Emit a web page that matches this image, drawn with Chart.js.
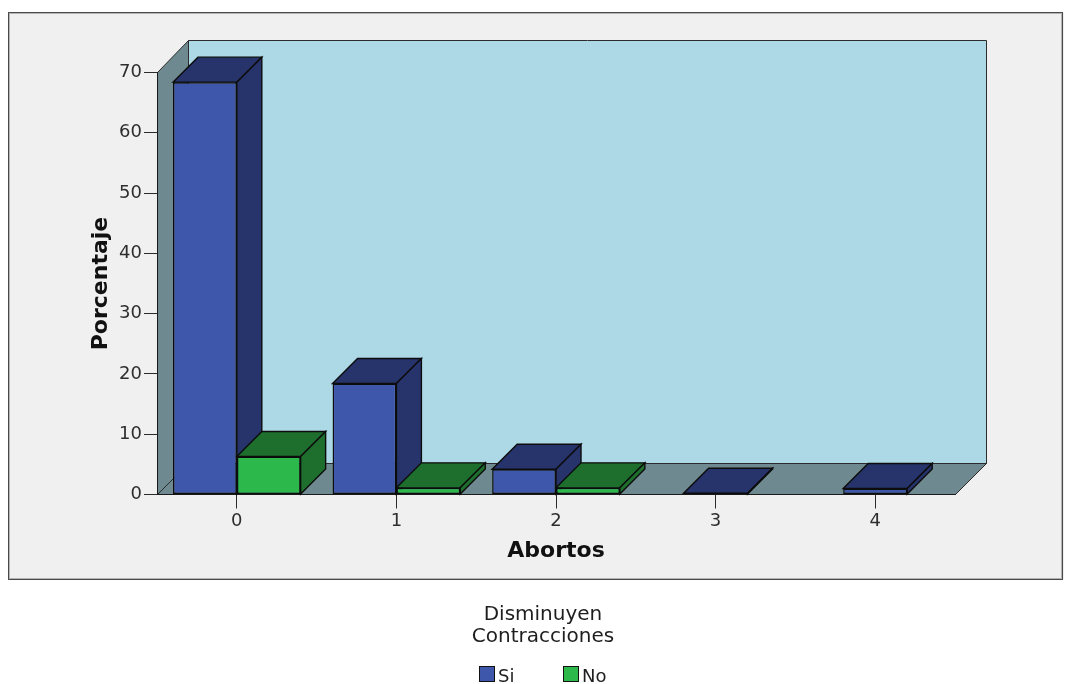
<!DOCTYPE html>
<html>
<head>
<meta charset="utf-8">
<script src="https://cdn.jsdelivr.net/npm/chart.js@4.4.1/dist/chart.umd.min.js"></script>
<style>
  html, body { margin: 0; padding: 0; background: #ffffff; }
  #wrap { width: 1065px; height: 684px; }
</style>
</head>
<body>
<div id="wrap"><canvas id="chart" width="1065" height="684"></canvas></div>
<script>
// Percent of cases by number of abortions, split by "Disminuyen Contracciones"
const categories = ['0', '1', '2', '3', '4'];
const seriesNames = ['Si', 'No'];
const siValues = [68.4, 18.4, 4.2, 0.2, 1.0];
const noValues = [6.3, 1.1, 1.1, null, null];
const yTicks = [0, 10, 20, 30, 40, 50, 60, 70];
const legendTitle = ['Disminuyen', 'Contracciones'];

// Front face colours and the darker colour used for top / side faces
const frontColors = ['#3e57ab', '#2db84b'];
const shadeColors = ['#26346b', '#1e6f2d'];

const FONT = '"DejaVu Sans", "Liberation Sans", sans-serif';
const BAR_DEPTH = 25;
const WALL_DEPTH = 31;

const crisp = v => Math.floor(v) + 0.5;

function poly(ctx, pts, fill, stroke, lw) {
  ctx.beginPath();
  ctx.moveTo(pts[0][0], pts[0][1]);
  for (let k = 1; k < pts.length; k++) ctx.lineTo(pts[k][0], pts[k][1]);
  ctx.closePath();
  ctx.fillStyle = fill;
  ctx.fill();
  if (stroke) {
    ctx.strokeStyle = stroke;
    ctx.lineWidth = lw || 1;
    ctx.stroke();
  }
}

// Frame, box walls, bar depth faces and the legend block
const scenePlugin = {
  id: 'scene3d',
  beforeDraw(chart) {
    const { ctx, chartArea: a } = chart;
    const d = WALL_DEPTH;
    ctx.save();
    ctx.fillStyle = '#ffffff';
    ctx.fillRect(0, 0, chart.width, chart.height);
    // panel
    ctx.fillStyle = '#f0f0f0';
    ctx.fillRect(8, 12, 1056, 568);
    ctx.lineWidth = 1;
    ctx.strokeStyle = '#b4b4b4';
    ctx.strokeRect(9.5, 13.5, 1052, 565);
    ctx.strokeStyle = '#4a4a4a';
    ctx.strokeRect(8.5, 12.5, 1054, 567);

    const L = crisp(a.left), R = crisp(a.right), T = crisp(a.top), B = crisp(a.bottom);
    const edge = '#2b2b2b';
    // back wall
    poly(ctx, [[L + d, T - d - 1], [R + d, T - d - 1], [R + d, B - d], [L + d, B - d]], '#add8e6', edge);
    // side wall
    poly(ctx, [[L, T], [L + d, T - d - 1], [L + d, B - d], [L, B]], '#6e8a90', edge);
    // floor
    poly(ctx, [[L, B], [L + d, B - d], [R + d, B - d], [R, B]], '#6e8a90', edge);
    ctx.restore();
  },
  beforeDatasetsDraw(chart) {
    const { ctx } = chart;
    const d = BAR_DEPTH;
    ctx.save();
    ctx.lineJoin = 'miter';
    const n = chart.data.labels.length;
    for (let i = 0; i < n; i++) {
      chart.data.datasets.forEach((ds, di) => {
        const v = ds.data[i];
        if (v === null || v === undefined) return;
        const el = chart.getDatasetMeta(di).data[i];
        if (!el) return;
        const { x, y, base, width } = el.getProps(['x', 'y', 'base', 'width'], true);
        const l = x - width / 2, r = x + width / 2;
        const shade = shadeColors[di];
        // top face
        poly(ctx, [[l, y], [l + d, y - d], [r + d, y - d], [r, y]], shade, '#0c0c0c', 1.4);
        // right side face
        poly(ctx, [[r, y], [r + d, y - d], [r + d, base - d], [r, base]], shade, '#0c0c0c', 1.4);
      });
    }
    ctx.restore();
  },
  afterDraw(chart) {
    const { ctx } = chart;
    ctx.save();
    ctx.fillStyle = '#1e1e1e';
    ctx.textAlign = 'center';
    ctx.textBaseline = 'alphabetic';
    ctx.font = '20px ' + FONT;
    legendTitle.forEach((t, k) => ctx.fillText(t, 543, 620 + k * 22));

    ctx.font = '18px ' + FONT;
    ctx.textAlign = 'left';
    const itemX = [479, 563];
    chart.data.datasets.forEach((ds, k) => {
      const bx = itemX[k];
      ctx.fillStyle = ds.backgroundColor;
      ctx.fillRect(bx, 666, 16, 16);
      ctx.strokeStyle = '#111111';
      ctx.lineWidth = 1;
      ctx.strokeRect(bx + 0.5, 666.5, 15, 15);
      ctx.fillStyle = '#1e1e1e';
      ctx.fillText(ds.label, bx + 19, 682);
    });
    ctx.restore();
  }
};

const chart = new Chart(document.getElementById('chart'), {
  type: 'bar',
  data: {
    labels: categories,
    datasets: [
      { label: seriesNames[0], data: siValues, backgroundColor: frontColors[0] },
      { label: seriesNames[1], data: noValues, backgroundColor: frontColors[1] }
    ]
  },
  options: {
    responsive: false,
    devicePixelRatio: 1,
    animation: false,
    events: [],
    skipNull: true,
    categoryPercentage: 0.8,
    barPercentage: 1.0,
    maxBarThickness: 64,
    borderColor: '#0c0c0c',
    borderWidth: 1.5,
    borderSkipped: false,
    layout: { padding: { top: 72.5, left: 0, right: 110, bottom: 104 } },
    plugins: {
      legend: { display: false },
      tooltip: { enabled: false },
      title: { display: false }
    },
    scales: {
      x: {
        grid: { display: true, drawOnChartArea: false, drawTicks: true, tickLength: 14, color: '#2b2b2b', offset: false },
        border: { display: true, color: '#1a1a1a' },
        ticks: { color: '#2e2e2e', padding: 2, font: { family: FONT, size: 18 } },
        title: {
          display: true, text: 'Abortos', color: '#111111',
          font: { family: FONT, size: 22, weight: 'bold' },
          padding: { top: 0, bottom: 16 }
        },
        afterFit(scale) { scale.height = 85.5; }
      },
      y: {
        min: yTicks[0],
        max: yTicks[yTicks.length - 1],
        afterBuildTicks(scale) { scale.ticks = yTicks.map(v => ({ value: v })); },
        grid: { display: true, drawOnChartArea: false, drawTicks: true, tickLength: 13, color: '#2b2b2b' },
        border: { display: true, color: '#1a1a1a' },
        ticks: { color: '#2e2e2e', padding: 2, font: { family: FONT, size: 18 } },
        title: {
          display: true, text: 'Porcentaje', color: '#111111',
          font: { family: FONT, size: 22, weight: 'bold' },
          padding: { top: 88, bottom: 0 }
        },
        afterFit(scale) { scale.width = 157; }
      }
    }
  },
  plugins: [scenePlugin]
});
</script>
</body>
</html>
